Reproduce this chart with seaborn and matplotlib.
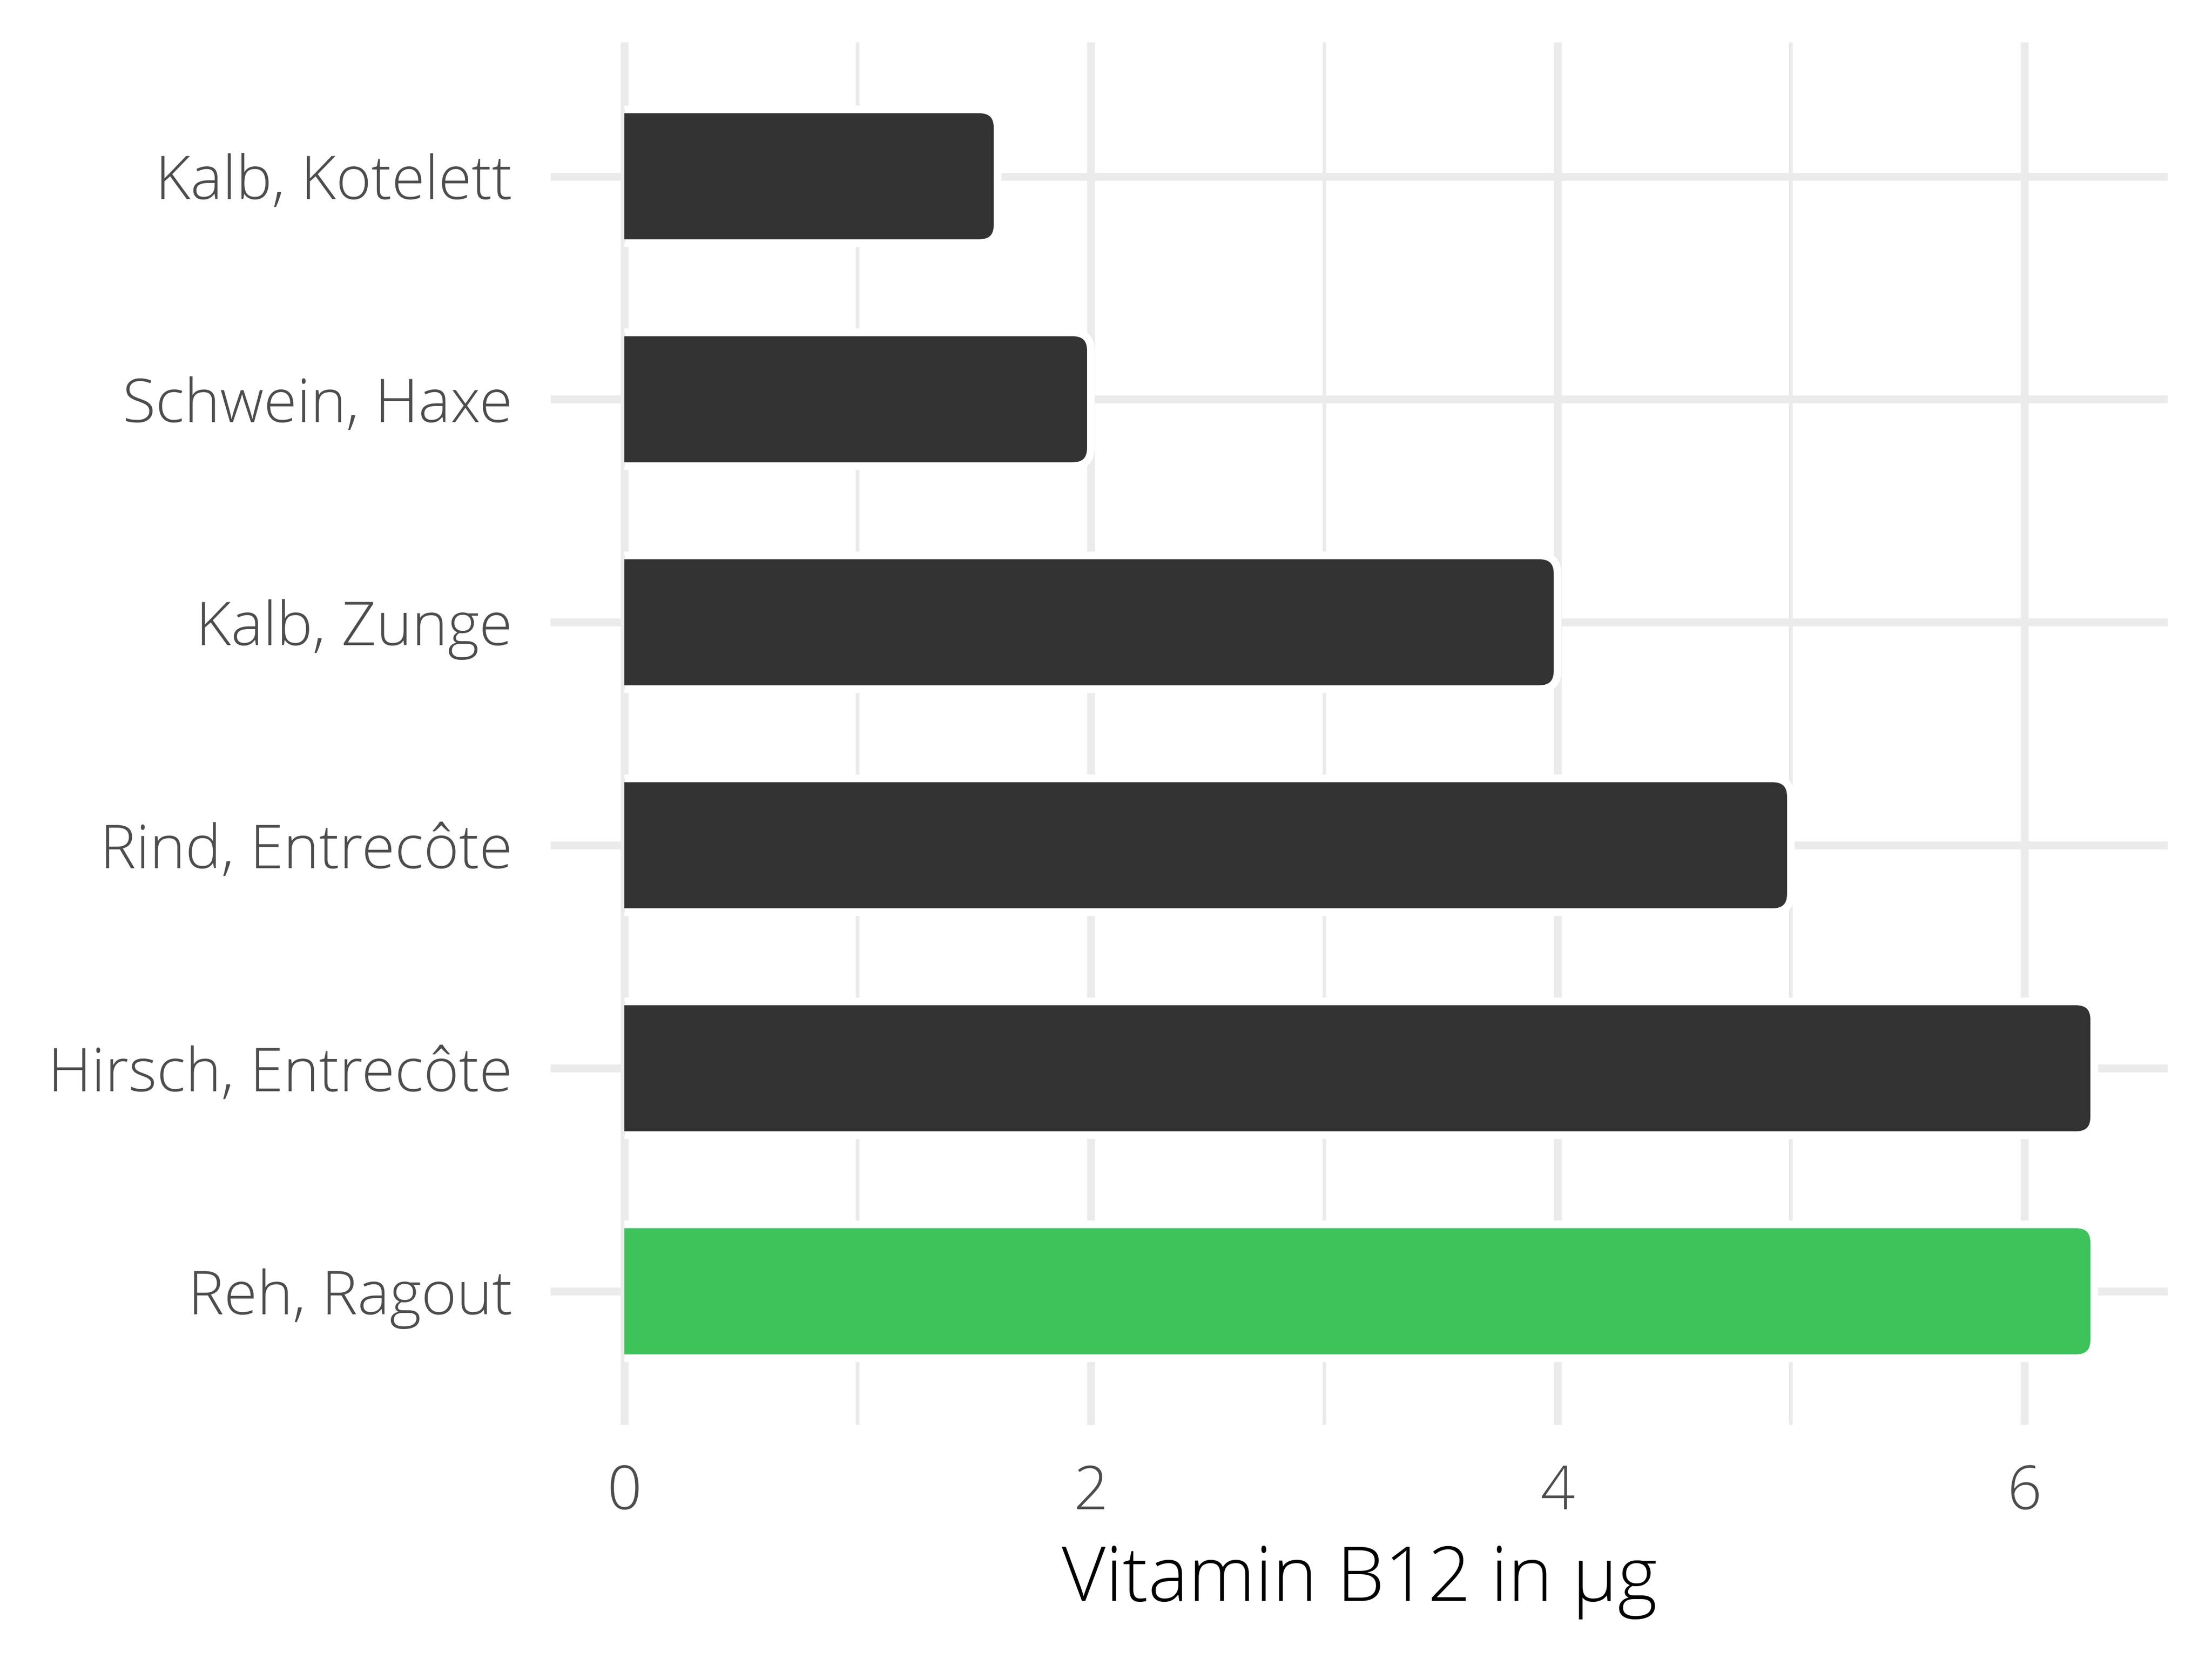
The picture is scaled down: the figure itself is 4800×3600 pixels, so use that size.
import matplotlib
matplotlib.use("Agg")
import matplotlib.pyplot as plt
import seaborn as sns
import pandas as pd
from matplotlib.path import Path
from matplotlib.patches import PathPatch
from matplotlib.ticker import FixedLocator, MultipleLocator

# ---- data ----
categories = ["Kalb, Kotelett", "Schwein, Haxe", "Kalb, Zunge",
              "Rind, Entrecôte", "Hirsch, Entrecôte", "Reh, Ragout"]
values = [1.6, 2.0, 4.0, 5.0, 6.3, 6.3]
highlight = "Reh, Ragout"
x_ticks = [0, 2, 4, 6]
x_label = "Vitamin B12 in µg"

bar_color = "#333333"
hi_color = "#3dc35a"
grid_color = "#ebebeb"

sns.set_theme(style="white")
plt.rcParams["font.family"] = ["Open Sans", "DejaVu Sans"]

fig = plt.figure(figsize=(16, 12), dpi=300)
ax = fig.add_axes([0.249, 0.141, 0.731, 0.8334])

df = pd.DataFrame({"cat": categories, "val": values})
palette = {c: (hi_color if c == highlight else bar_color) for c in categories}
sns.barplot(data=df, x="val", y="cat", hue="cat", palette=palette, legend=False,
            width=0.6, saturation=1, orient="h", ax=ax)

ax.set_xlim(-0.315, 6.615)
ax.set_ylim(5.6, -0.6)

ax.xaxis.set_major_locator(FixedLocator(x_ticks))
ax.xaxis.set_minor_locator(MultipleLocator(1))
ax.set_axisbelow(True)
ax.grid(which="major", axis="both", color=grid_color, lw=4.1)
ax.grid(which="minor", axis="x", color=grid_color, lw=2.0)
for s in ax.spines.values():
    s.set_visible(False)

ax.tick_params(axis="both", which="both", length=0, labelsize=31.5, labelcolor="#4d4d4d")
ax.tick_params(axis="y", pad=20)
ax.tick_params(axis="x", pad=20)
for lab in ax.get_xticklabels() + ax.get_yticklabels():
    lab.set_fontweight("light")
ax.set_ylabel("")
ax.set_xlabel(x_label, fontsize=39.5, color="black", fontweight="light", labelpad=10)

# rounded right ends
T = ax.transData
ppx_x = abs(T.transform((1, 0))[0] - T.transform((0, 0))[0])
ppx_y = abs(T.transform((0, 1))[1] - T.transform((0, 0))[1])
r_px = 40
rx, ry = r_px / ppx_x, r_px / ppx_y
for p in list(ax.patches):
    x0, y0, w, h = p.get_x(), p.get_y(), p.get_width(), p.get_height()
    col = p.get_facecolor()
    p.remove()
    x1, y1 = x0 + w, y0 + h
    verts = [(x0, y0), (x1 - rx, y0), (x1, y0), (x1, y0 + ry),
             (x1, y1 - ry), (x1, y1), (x1 - rx, y1), (x0, y1)]
    codes = [Path.MOVETO, Path.LINETO, Path.CURVE3, Path.CURVE3,
             Path.LINETO, Path.CURVE3, Path.CURVE3, Path.LINETO]
    ax.add_patch(PathPatch(Path(verts + [(x0, y0)], codes + [Path.CLOSEPOLY]),
                           facecolor=col, edgecolor="none", zorder=2))
    ax.add_patch(PathPatch(Path(verts, codes), fill=False, edgecolor="white",
                           lw=4, zorder=2.1, capstyle="butt"))

fig.savefig("out.png", dpi=300, facecolor="white")
